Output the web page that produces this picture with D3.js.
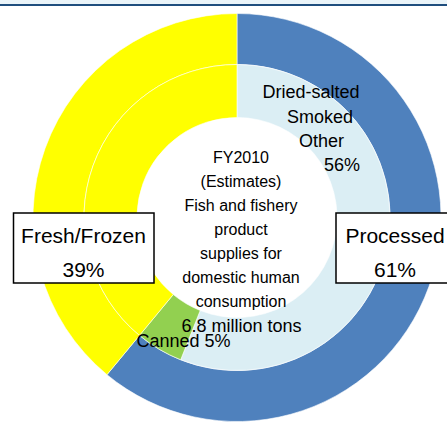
<!DOCTYPE html>
<html>
<head>
<meta charset="utf-8">
<script src="https://cdn.jsdelivr.net/npm/d3@7"></script>
<style>
  html, body { margin: 0; padding: 0; background: #fff; }
  svg { display: block; font-family: "Liberation Sans", Arial, sans-serif; }
</style>
</head>
<body>
<div id="main"></div>
<script>
// DATA
const outer_labels = ["Processed", "Fresh/Frozen"]
const outer_values = [61, 39]
const outer_colors = ["#4f81bd", "#ffff00"]

const inner_labels = ["Dried-salted Smoked Other", "Canned", "Fresh/Frozen"]
const inner_values = [56, 5, 39]
const inner_colors = ["#dbeef4", "#92d050", "#ffff00"]

const center_lines = ["FY2010", "(Estimates)", "Fish and fishery", "product",
                      "supplies for", "domestic human", "consumption"]
const total_label = "6.8 million tons"

// SETUP
const width = 447
const height = 423
const cx = 237, cy = 217.5
const r_hole = 100, r_mid = 153, r_out = 204

const svg = d3.select("#main").append("svg")
    .attr("width", width)
    .attr("height", height)

// top band
svg.append("rect").attr("x", 0).attr("y", 0).attr("width", width).attr("height", 4)
    .attr("fill", "#eaf4f9")
svg.append("line").attr("x1", 0).attr("x2", width).attr("y1", 5).attr("y2", 5)
    .attr("stroke", "#1f4e7e").attr("stroke-width", 2)

const pie = d3.pie().sort(null).value(d => d)
const g = svg.append("g").attr("transform", `translate(${cx},${cy})`)

const arc_out = d3.arc().innerRadius(r_mid).outerRadius(r_out)
const arc_in = d3.arc().innerRadius(r_hole).outerRadius(r_mid)

g.selectAll("path.outer").data(pie(outer_values))
    .enter().append("path")
        .attr("class", "outer")
        .attr("d", arc_out)
        .attr("fill", (d, i) => outer_colors[i])
        .attr("stroke", "#fff").attr("stroke-width", 0.6)

g.selectAll("path.inner").data(pie(inner_values))
    .enter().append("path")
        .attr("class", "inner")
        .attr("d", arc_in)
        .attr("fill", (d, i) => inner_colors[i])
        .attr("stroke", "#fff").attr("stroke-width", 0.6)

// LABELS
function box_label(x0, x1, cxText, name, value){
    svg.append("rect")
        .attr("x", x0).attr("y", 213).attr("width", x1 - x0).attr("height", 70)
        .attr("fill", "#fff").attr("stroke", "#000").attr("stroke-width", 1.5)
    svg.append("text").attr("x", cxText).attr("y", 243)
        .attr("text-anchor", "middle").attr("font-size", 21).text(name)
    svg.append("text").attr("x", cxText).attr("y", 277)
        .attr("text-anchor", "middle").attr("font-size", 21).text(value + "%")
}
box_label(13.5, 154, 83.5, outer_labels[1], outer_values[1])
box_label(336, 470, 395, outer_labels[0], outer_values[0])

// inner slice labels
const dried_words = inner_labels[0].split(" ")
const dried_x = [311, 320, 321.5]
dried_words.forEach((w, i) => {
    svg.append("text").attr("x", dried_x[i]).attr("y", 98 + i * 24.5)
        .attr("text-anchor", "middle").attr("font-size", 18).text(w)
})
svg.append("text").attr("x", 342).attr("y", 171)
    .attr("text-anchor", "middle").attr("font-size", 18).text(inner_values[0] + "%")

svg.append("text").attr("x", 183.5).attr("y", 347)
    .attr("text-anchor", "middle").attr("font-size", 18)
    .text(inner_labels[1] + " " + inner_values[1] + "%")

// center text
center_lines.forEach((t, i) => {
    svg.append("text").attr("x", 241).attr("y", 163 + i * 24)
        .attr("text-anchor", "middle").attr("font-size", 16).text(t)
})
svg.append("text").attr("x", 241.5).attr("y", 332)
    .attr("text-anchor", "middle").attr("font-size", 18).text(total_label)
</script>
</body>
</html>
